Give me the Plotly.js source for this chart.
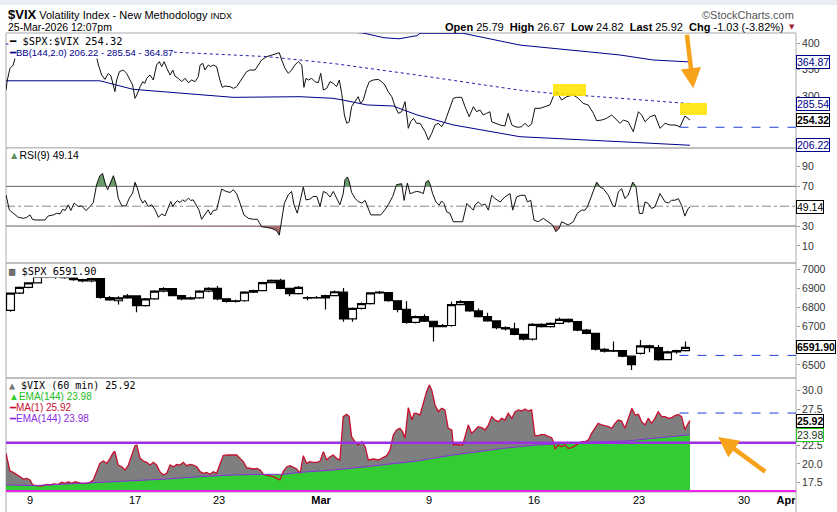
<!DOCTYPE html>
<html><head><meta charset="utf-8">
<script src="https://cdn.plot.ly/plotly-3.0.1.min.js"></script>
<style>html,body{margin:0;padding:0;background:#fff;}#chart{width:837px;height:512px;}</style>
</head><body><div id="chart"></div>
<script>
// ---------- DATA (x = 60-min bar number, 7 bars per trading day) ----------
const xTickVals = [8,43,71,105,141,176,211,246,260];
const xTickText = ['9','17','23','<b>Mar</b>','9','16','23','30','<b>Apr</b>'];

// $SPX:$VIX ratio
const ratioX = [0,0.44,1.33,2.4,3,6,10,14,18,22,26,
30.2,30.8,31.9,33,34.1,35,36.3,36.9,37.8,39.1,40.2,41.3,42.2,43,43.6,44.7,45.6,46.3,46.9,48,
49.1,50.2,51.1,51.9,52.7,53.6,54.7,55.6,56.3,57.4,58.6,59.7,60.8,61.9,63,64.1,64.7,65.6,66.3,67.4,
68.2,69.1,70.2,71.3,72.1,73,74.7,75.8,76.9,78,79.1,80.2,81.3,83,84.1,85.2,86.9,88.6,90.2,91.1,
91.9,93,94.1,95.2,96.3,97.4,98.6,99.3,100,100.8,101.9,103,104.1,104.9,105.8,106.9,108,109.1,110.2,111.1,
111.9,112.8,113.6,114.4,115.2,116.3,117.4,118.2,119.1,120.2,121.1,122.4,124.1,125.2,126.3,127.4,128.6,129.7,130.8,131.9,
133,133.8,134.1,134.9,135.8,136.9,
138,139.7,140.8,141.9,143,144.1,145.2,146.3,147.4,149.1,150.2,151.9,153,154.4,155.8,156.9,158,159.1,160.2,161.3,
161.9,163,164.7,166.3,167.4,168.6,169.7,170.8,171.9,173,174.1,175.2,176.3,178,179.7,181.3,182.4,183.6,185.2,186.9,
189.1,190.8,192.4,194.1,195.8,196.9,198.6,200.2,201.9,203,204.7,205.8,207.4,209.1,210.8,211.9,213,214.7,216.3,218,
219.7,221.3,223,224.7,226.3,228];
const ratioV = [311.4,330.5,352.7,359,371.8,388,394,386,396,390,384,
374.9,359,340,331.7,343.2,338,308.3,330.5,346.4,349.5,343.2,330.5,321,295.6,301.9,317.8,327.3,324.1,333.7,340,
330.5,359,365.4,355.9,365.4,352.7,340,349.5,338,333.7,327.3,333.7,325.4,330.5,327.3,336.8,359,362.2,349.5,359,
355.9,359,355.9,330.5,316.5,319,317.8,314.6,317.8,327.3,336.8,346.4,349.5,349.5,359,368.6,374.9,378.1,381.2,382.5,
368.6,352.7,343.2,349.5,359,365.4,359,316.5,333.7,330.5,333.7,327.3,325.4,343.2,311.4,314.6,327.3,324.1,317.8,330.5,
305,263.8,248,251,279.7,289.2,298.7,286,292.4,314.6,327.3,330.5,331.7,327.3,321,308.3,298.7,279.7,267,270.1,
289.2,254.3,238.5,251,257.5,248,
248,232,216.2,228.9,244.8,248,241.6,251,267,295.6,297.5,297.5,279.7,260.6,279.7,270.1,273.3,263.8,267,270.1,
251,248,244.8,242.9,267,244.8,241.6,240.4,241.6,248,241.6,246.7,276.6,276.6,279.7,282.9,298.7,308.3,292.4,298.7,
301.9,295.6,286,282.9,267,253,254.3,257.5,263.8,257.5,248,254.3,251,232,270.1,263.8,251,260.6,263.8,238.5,
248,244.8,244.8,241.6,261.9,254.32];

// Bollinger Bands (144,2.0)
const bbUpperX = [0,50,100,115,119,126,131,137,138,152.3,171.3,193.7,204.7,215.7,228];
const bbUpperV = [445,438,428,422,420,411,409,415,419.5,419.5,397,384.4,378.1,368.6,364.87];
const bbMidX = [0,30,56.3,87,109,137,171.3,182.3,204.7,228];
const bbMidV = [399,391,383,375,362,340,311,305,295.6,285.54];
const bbLowerX = [0,31.3,42.3,53.7,75.7,98,109,112.3,120.3,129,137,149,171.3,204.7,228];
const bbLowerV = [329,329,312.8,308,297.5,298.7,295.6,292.4,283,281,264,245,222.5,213,206.22];
const ratioPrevClose = 240.5;

// RSI(9)
const rsiX = [0,1.1,2.4,4.1,5.8,6.9,8,8.8,9.7,11.3,13,14.1,15.8,16.9,18,18.9,19.7,20.8,21.6,22.7,
24.1,25.2,26.7,28,29.1,30.2,31.3,32.2,33,33.9,34.9,35.8,36.7,37.4,38.6,40,41.1,42.2,43,43.8,
44.7,45.6,46.3,47.4,48.6,49.7,50.8,51.9,53,54.1,54.9,55.6,56.3,57.1,58,58.9,59.7,60.8,61.6,62.4,
63.6,64.3,65.2,66.3,67.4,68.2,69.1,70.2,71.9,73.3,74.7,75.8,76.9,78,79.3,80.8,82.4,83.8,85.2,86.9,
88.6,90.2,91.1,91.9,92.8,94.1,95.2,96,97.1,98,99.1,100,101.3,102.4,103.6,104.7,105.8,106.9,108,109.1,
110.4,111.3,112.4,113,113.8,114.4,115.2,116.3,117.4,118.6,119.7,120.8,121.6,123,124.9,126.3,127.4,128.9,130.2,131.9,
132.7,133.8,134.7,135.8,136.9,
138,139.1,140,140.8,141.3,142.2,143.3,144.4,145.2,146,146.9,148,149.1,150.8,152.2,153.6,154.7,155.8,156.3,157.4,
158.6,159.7,160.8,161.9,163,164.7,166.3,168,168.9,170.2,171.6,173,173.8,174.9,176,177.4,179.1,180.8,182.2,183.3,
184.4,185.2,186.3,187.4,189.1,190.4,191.9,193,193.8,194.9,196,196.9,198,199.1,200.8,202.2,203,204.1,205.2,206.3,
207.4,208.9,210,211.1,212.2,213,214.1,215.2,216.3,218,219.7,220.8,221.9,223,224.1,225.2,226.3,227.4,228];
const rsiV = [61.5,46.3,42.9,38.8,37.8,38.8,41.2,36.8,36.1,36.1,36.1,40.2,41.2,42.9,42.2,46.9,45.6,51.4,45.6,53.1,
49.7,50.3,45.6,49.7,53.7,71.7,80.8,82.9,73.4,66.6,75.1,80.8,71.7,58.1,50.3,50.3,58.1,63.2,74.1,68.3,
58.1,53.1,55.8,49.7,51.4,46.3,38.8,42.2,40.2,49.7,54.7,49.7,53.1,55.4,53.7,56.4,54.7,58.1,55.8,56.4,
49.7,46.3,36.8,41.2,46.3,41.2,45.6,46.3,67.3,64.9,63.9,66.6,62.5,53.1,41.2,37.8,36.8,36.8,29.3,28.6,
27.6,25.3,20.8,36.1,53.1,61.5,64.9,51.4,42.9,54.7,69.3,56.4,57.1,59.8,59.8,49.7,64.9,63.2,59.2,64.9,
57.1,51.4,62.5,76.8,79.5,75.1,63.9,58.1,54.7,53.1,55.8,48,41.2,41.2,41.2,46.3,51.4,59.8,71.7,72.7,
55.8,73.4,62.5,63.9,64.9,
64.3,62.7,74.3,76,72.7,62.7,54.3,51,55.3,52.7,44.3,42.7,34.3,34.3,34.3,52.7,49.3,46,51,54.3,
51,52,46,61,57.7,54.3,59.3,62.7,46,59.3,61,61,54.3,56,36,34.3,37.7,34.3,31,24.3,
27.7,34.3,32.7,31,34.3,42.7,46,46,49.3,57.7,67.7,74.3,69.3,67.7,61,51,49.3,64.3,67.7,57.7,
61,74.3,69.3,42.7,42.7,54.3,52.7,47.7,49.3,62.7,54.3,53.3,56,56,57.7,51,40,47.7,49.14];

// $SPX candles (each candle = 3 hourly bars)
const spxBar = [1.5,4.5,7.5,10.5,13.5,16.5,19.5,22.5,25.5,28.5,31.5,34.5,37.5,40.5,43.5,46.5,49.5,52.5,55.5,58.5,
61.5,64.5,67.5,70.5,73.5,76.5,79.5,82.5,85.5,88.5,91.5,94.5,97.5,100.5,103.5,106.5,109.5,112.5,115.5,118.5,
121.5,124.5,127.5,130.5,133.5,136.5,139.5,142.5,145.5,148.5,151.5,154.5,157.5,160.5,163.5,166.5,169.5,172.5,175.5,178.5,
181.5,184.5,187.5,190.5,193.5,196.5,199.5,202.5,205.5,208.5,211.5,214.5,217.5,220.5,223.5,226.5];
const spxOpen = [6785,6875,6905,6928,6962,6958,6962,6955,6945,6938,
6950,6852,6835,6850,6860,6810,6845,6885,6898,6862,
6845,6850,6885,6900,6845,6832,6835,6880,6888,6930,
6942,6900,6872,6848,6852,6850,6862,6880,6740,6795,
6820,6876,6878,6835,6790,6722,6752,6728,6700,6706,
6815,6830,6782,6752,6730,6695,6688,6660,6635,6712,
6700,6717,6738,6726,6682,6665,6582,6572,6575,6546,
6561,6600,6590,6528,6568,6575];
const spxHigh = [6878,6910,6932,6966,6968,6966,6966,6960,6950,6955,
6952,6860,6858,6870,6862,6850,6890,6905,6900,6865,
6856,6890,6906,6912,6848,6840,6884,6892,6934,6946,
6950,6902,6912,6858,6860,6866,6888,6902,6800,6826,
6880,6886,6880,6835,6832,6758,6765,6730,6714,6830,
6838,6832,6795,6772,6732,6702,6720,6662,6718,6718,
6722,6748,6742,6728,6688,6668,6588,6622,6578,6548,
6630,6605,6604,6574,6580,6622];
const spxLow = [6778,6870,6900,6925,6952,6950,6950,6940,6932,6932,
6845,6835,6815,6845,6775,6805,6840,6880,6858,6838,
6840,6845,6880,6838,6826,6826,6830,6876,6885,6926,
6895,6858,6868,6838,6845,6789,6858,6725,6725,6790,
6815,6870,6830,6775,6715,6716,6724,6623,6698,6700,
6810,6778,6748,6725,6686,6680,6655,6628,6628,6695,
6696,6712,6720,6676,6660,6575,6565,6568,6540,6474,
6555,6566,6522,6524,6558,6570];
const spxClose = [6875,6905,6928,6962,6958,6962,6955,6945,6938,6950,
6852,6840,6850,6860,6810,6845,6885,6898,6862,6845,
6850,6885,6900,6845,6832,6835,6880,6888,6930,6942,
6900,6872,6905,6852,6850,6862,6882,6740,6795,6820,
6876,6880,6835,6790,6722,6752,6728,6700,6706,6815,
6830,6782,6752,6730,6695,6688,6660,6635,6712,6700,
6717,6738,6726,6682,6665,6582,6572,6575,6546,6502,
6600,6590,6528,6568,6575,6591.9];
const spxPrevClose = 6550;

// $VIX (60 min)
const vixX = [0,0.8,1.3,2.4,3.6,4.7,5.8,6.9,8,8.9,10.2,11.9,13.6,14.7,15.8,17.4,18.6,19.7,20.8,21.9,
23,24.1,25.2,26.9,28,29.1,30.2,31.3,32.4,33.6,34.7,35.8,36.3,36.9,37.4,38.6,39.7,40.8,41.9,43,
43.6,44.1,44.7,45.8,46.9,48,49.1,50.2,51.3,52.4,53.6,54.7,55.8,56.9,58,59.1,60.2,61.3,62.4,63.6,
64.7,65.8,66.9,68,69.1,70.2,71.3,72.4,73.6,74.7,75.8,76.9,78,79.1,80.2,81.3,82.4,83.6,84.7,85.8,
86.9,88,89.1,90.2,91.3,92.4,93.6,94.7,95.8,96.9,98,98.6,99.1,100.2,101.3,102.4,103.6,104.7,105.8,106.9,
108,109.1,110.2,111.3,112.4,113.6,114.4,115.2,116.3,117.4,118.6,119.7,120.8,122.4,124.1,125.2,126.9,128,129.1,130.2,
131.3,132.2,133,134.1,135.3,136,136.9,
138,139.1,140.2,141.1,141.9,143,144.1,145.2,146.3,147.4,148.6,149.1,150.2,151.3,152.2,153,154.1,155.2,156.3,157.4,
158.6,159.7,160.8,161.9,163,164.1,165.2,166.3,167.4,168.6,169.7,170.8,171.9,173,174.1,175.2,176.3,177.4,178.6,179.7,
180.8,181.9,182.4,183,184.1,185.2,186.3,187.4,188.6,189.7,190.8,191.9,193,194.1,195.2,196.3,197.4,198.6,199.7,200.8,
201.9,203,204.1,205.2,206.3,207.4,208.6,209.7,210.8,211.9,213,214.1,215.2,216.3,217.4,218.6,219.7,220.8,221.9,223,
224.1,225.2,226.3,227.4,228];
const vixV = [21.46,20.09,19.05,18.86,18.59,18.27,17.95,18.04,17.82,17.14,17.05,17.0,17.23,17.14,17.27,17.23,17.5,17.36,17.59,17.36,
17.59,17.5,17.36,17.36,17.5,17.82,18.95,20.09,20.41,20.09,20.77,21.59,21.68,20.77,19.86,19.63,19.18,19.86,21.23,22.5,
22.59,21.91,20.77,20.41,20.23,19.86,20.23,19.86,18.95,18.5,18.73,19.86,19.63,19.95,19.86,20.23,19.77,19.95,19.86,19.63,
18.95,18.73,18.86,18.59,18.95,18.73,20.09,21.14,21.23,21.23,21.14,21.23,20.77,20.32,19.5,19.41,19.32,19.41,19.18,18.59,
18.5,18.41,18.27,18.04,17.82,18.95,19.63,19.77,19.5,19.32,18.73,19.86,21.14,20.09,20.32,20.23,20.23,20.41,21.68,20.55,
21.0,21.23,20.77,20.55,26.46,26.77,26.46,23.73,23.05,22.59,23.05,22.36,20.55,20.68,20.55,20.77,21.14,21.91,23.96,24.64,
24.87,24.41,23.5,27.68,26.0,26.91,26.91,
26.68,28.28,29.87,30.78,30.1,28.05,27.14,27.59,27.37,24.87,24.64,22.59,22.68,22.59,22.59,23.73,25.32,24.18,24.64,25.09,
24.96,24.64,25.32,26.46,26.0,25.77,26.23,26.0,26.91,26.23,27.14,27.37,27.23,27.5,27.23,27.37,23.87,23.87,24.05,23.96,
23.73,23.59,23.05,22.05,22.59,22.36,22.59,22.14,22.23,22.5,22.82,23.05,23.05,23.27,24.18,24.87,25.55,25.32,25.23,25.09,
24.87,25.55,26.0,25.86,24.87,26.23,27.59,26.68,26.77,25.77,25.32,26.23,25.55,26.23,27.14,26.46,26.46,26.23,26.32,26.59,
26.77,26.46,24.7,25.55,25.92];
const emaX = [0,9.1,20.2,31.3,42.4,53.6,64.7,75.8,85.8,92.4,98,109.1,120.2,131.3,136.9,149.1,165.8,176.9,193.6,206.9,215.8,228];
const emaV = [17.14,17.05,17.27,17.5,17.68,17.95,18.27,18.5,18.59,18.59,18.86,19.18,19.63,20.09,20.41,21.23,22.14,22.59,22.96,23.14,23.5,23.98];
const vixPrevClose = 26.95;
const vixLevel = 22.9;

// ---------- LAYOUT HELPERS ----------
const PL = 6, PR = 796, PT = 33, PB = 492;
const xMax = (PR - PL) / 3;
function pxX(x){ return (x - PL) / (PR - PL); }
function pxY(y){ return (PB - y) / (PB - PT); }
const d1 = [pxY(148), 1], d2 = [pxY(263), pxY(148)], d3 = [pxY(378), pxY(263)], d4 = [0, pxY(378)];

function bandFill(xs, ys, thr, above){
  const fx = [], fy = [];
  for (let i = 0; i < xs.length; i++){
    if (i > 0){
      const y0 = ys[i-1], y1 = ys[i];
      if ((y0 - thr) * (y1 - thr) < 0){
        const t = (thr - y0) / (y1 - y0);
        fx.push(xs[i-1] + t * (xs[i] - xs[i-1])); fy.push(thr);
      }
    }
    fx.push(xs[i]); fy.push(above ? Math.max(ys[i], thr) : Math.min(ys[i], thr));
  }
  fx.push(xs[xs.length-1], xs[0]); fy.push(thr, thr);
  return {x: fx, y: fy};
}
const gFill = bandFill(rsiX, rsiV, 70, true);
const rFill = bandFill(rsiX, rsiV, 30, false);

const traces = [
  {x: bbUpperX, y: bbUpperV, yaxis: 'y', mode: 'lines', line: {color: '#00008b', width: 1}},
  {x: bbLowerX, y: bbLowerV, yaxis: 'y', mode: 'lines', line: {color: '#00008b', width: 1}},
  {x: bbMidX, y: bbMidV, yaxis: 'y', mode: 'lines', line: {color: '#2020b0', width: 1, dash: 'dot'}},
  {x: ratioX, y: ratioV, yaxis: 'y', mode: 'lines', line: {color: '#111', width: 1}},
  {x: gFill.x, y: gFill.y, yaxis: 'y2', mode: 'lines', fill: 'toself', fillcolor: '#6b9b6b', line: {width: 0}},
  {x: rFill.x, y: rFill.y, yaxis: 'y2', mode: 'lines', fill: 'toself', fillcolor: '#a86c6c', line: {width: 0}},
  {x: rsiX, y: rsiV, yaxis: 'y2', mode: 'lines', line: {color: '#111', width: 1}},
  {type: 'candlestick', x: spxBar, open: spxOpen, high: spxHigh, low: spxLow, close: spxClose, yaxis: 'y3',
   whiskerwidth: 0,
   increasing: {line: {color: '#000', width: 1.2}, fillcolor: '#ffffff'},
   decreasing: {line: {color: '#000', width: 1.2}, fillcolor: '#000000'}},
  {x: vixX, y: vixV, yaxis: 'y4', mode: 'lines', fill: 'tozeroy', fillcolor: '#7f7f7f', line: {width: 0}},
  {x: emaX, y: emaV, yaxis: 'y4', mode: 'lines', fill: 'tozeroy', fillcolor: '#33cc33', line: {width: 0}},
  {x: vixX, y: vixV, yaxis: 'y4', mode: 'lines', line: {color: '#c8102e', width: 1.3}},
  {x: emaX, y: emaV, yaxis: 'y4', mode: 'lines', line: {color: '#8a2be2', width: 1}}
];

const yCommon = {side: 'right', anchor: 'x', showgrid: false, zeroline: false, showline: false,
  ticks: 'outside', ticklen: 3, tickcolor: '#999', tickfont: {size: 10.5, color: '#333'}, fixedrange: true};

const border = '#aaaaaa';
const shapes = [
  {type: 'rect', xref: 'paper', yref: 'paper', x0: -PL/790, x1: (837-PL)/790, y0: pxY(5), y1: pxY(0), fillcolor: '#e9edf1', line: {width: 0}, layer: 'below'},
  {type: 'rect', xref: 'paper', yref: 'paper', x0: 0, x1: 1, y0: d1[0], y1: d1[1], line: {color: border, width: 1}, layer: 'below'},
  {type: 'rect', xref: 'paper', yref: 'paper', x0: 0, x1: 1, y0: d2[0], y1: d2[1], line: {color: border, width: 1}, layer: 'below'},
  {type: 'rect', xref: 'paper', yref: 'paper', x0: 0, x1: 1, y0: d3[0], y1: d3[1], line: {color: border, width: 1}, layer: 'below'},
  {type: 'rect', xref: 'paper', yref: 'paper', x0: 0, x1: 1, y0: d4[0], y1: d4[1], line: {color: border, width: 1}, layer: 'below'},
  {type: 'line', xref: 'paper', yref: 'paper', x0: 0, x1: 0, y0: 0, y1: pxY(512), line: {color: border, width: 1}},
  {type: 'line', xref: 'paper', yref: 'paper', x0: 1, x1: 1, y0: 0, y1: pxY(512), line: {color: border, width: 1}},
  {type: 'line', xref: 'paper', yref: 'y2', x0: 0, x1: 1, y0: 70, y1: 70, line: {color: '#666', width: 1}, layer: 'below'},
  {type: 'line', xref: 'paper', yref: 'y2', x0: 0, x1: 1, y0: 30, y1: 30, line: {color: '#666', width: 1}, layer: 'below'},
  {type: 'line', xref: 'paper', yref: 'y2', x0: 0, x1: 1, y0: 50, y1: 50, line: {color: '#888', width: 1, dash: 'dashdot'}, layer: 'below'},
  {type: 'line', xref: 'x', yref: 'y', x0: 224.5, x1: xMax, y0: ratioPrevClose, y1: ratioPrevClose, line: {color: '#1f3fdb', width: 1, dash: 'dash'}},
  {type: 'line', xref: 'x', yref: 'y3', x0: 224.5, x1: xMax, y0: spxPrevClose, y1: spxPrevClose, line: {color: '#1f3fdb', width: 1, dash: 'dash'}},
  {type: 'line', xref: 'x', yref: 'y4', x0: 224.5, x1: xMax, y0: vixPrevClose, y1: vixPrevClose, line: {color: '#1f3fdb', width: 1, dash: 'dash'}},
  {type: 'line', xref: 'paper', yref: 'y4', x0: 0, x1: 1, y0: vixLevel, y1: vixLevel, line: {color: '#9b30e0', width: 2.5}},
  {type: 'line', xref: 'paper', yref: 'paper', x0: 0, x1: 1, y0: 0.002, y1: 0.002, line: {color: '#ee22ee', width: 2}},
  {type: 'rect', xref: 'paper', yref: 'paper', x0: pxX(553), x1: pxX(586), y0: pxY(96), y1: pxY(84), fillcolor: '#ffe500', opacity: 0.88, line: {width: 0}},
  {type: 'rect', xref: 'paper', yref: 'paper', x0: pxX(680), x1: pxX(707), y0: pxY(115), y1: pxY(103), fillcolor: '#ffe500', opacity: 0.88, line: {width: 0}}
];

const F = 'Liberation Sans, Arial, sans-serif';
const M = 'DejaVu Sans Mono, monospace';
function lab(text, y, opts){
  return Object.assign({xref: 'paper', yref: 'paper', x: pxX(8), y: pxY(y), xanchor: 'left', yanchor: 'middle',
    showarrow: false, text: text, bgcolor: '#ffffff', borderpad: 0, font: {family: F, size: 10, color: '#000'}}, opts || {});
}
function valBox(text, yref, y, color, bold, textColor){
  return {xref: 'paper', yref: yref, x: 1, y: y, xanchor: 'left', yanchor: 'middle', xshift: 0, showarrow: false,
    text: bold ? '<b>' + text + '</b>' : text, bgcolor: '#ffffff', bordercolor: color, borderwidth: 1, borderpad: 0,
    font: {family: F, size: 10.5, color: textColor || color}};
}
const nb = '\u00a0';
const annotations = [
  {xref: 'paper', yref: 'paper', x: 0, y: pxY(15), xanchor: 'left', yanchor: 'middle', showarrow: false,
   text: "<span style='font-size:13px'><b>$VIX</b></span> Volatility Index - New Methodology <span style='font-size:9px'>INDX</span>",
   font: {family: F, size: 11, color: '#000'}},
  {xref: 'paper', yref: 'paper', x: 0, y: pxY(26.7), xanchor: 'left', yanchor: 'middle', showarrow: false,
   text: '25-Mar-2026 12:07pm', font: {family: F, size: 10.5, color: '#000'}},
  {xref: 'paper', yref: 'paper', x: 1, y: pxY(15), xanchor: 'right', yanchor: 'middle', showarrow: false,
   text: '©StockCharts.com', font: {family: F, size: 11, color: '#555'}},
  {xref: 'paper', yref: 'paper', x: pxX(786), y: pxY(26.7), xanchor: 'right', yanchor: 'middle', showarrow: false,
   text: '<b>Open</b> 25.79' + nb + nb + '<b>High</b> 26.67' + nb + nb + '<b>Low</b> 24.82' + nb + nb + '<b>Last</b> 25.92' + nb + nb + '<b>Chg</b> -1.03 (-3.82%)',
   font: {family: F, size: 11, color: '#000'}},
  {xref: 'paper', yref: 'paper', x: pxX(792), y: pxY(27.5), xanchor: 'center', yanchor: 'middle', showarrow: false,
   text: '▼', font: {family: 'DejaVu Sans', size: 7, color: '#a01c3c'}},

  lab('━ $SPX:$VIX 254.32', 40.7, {font: {family: M, size: 10.4, color: '#000'}}),
  lab("━<span style='font-size:9.5px'>BB(144,2.0) 206.22 - 285.54 - 364.87</span>", 52.3, {font: {family: F, size: 9.5, color: '#00008b'}}),
  lab("<span style='color:#5f8f5f'>▲</span>RSI(9) 49.14", 155, {font: {family: F, size: 10.5, color: '#000'}}),
  lab('▥ $SPX 6591.90', 270.7, {font: {family: M, size: 10.4, color: '#000'}}),
  lab("<span style='color:#777'>▲</span> $VIX (60 min) 25.92", 385.7, {font: {family: M, size: 10, color: '#000'}}),
  lab("<span style='color:#33cc33'>▲</span>EMA(144) 23.98", 396.7, {font: {family: F, size: 10, color: '#22bb22'}}),
  lab('━MA(1) 25.92', 407.7, {font: {family: F, size: 10, color: '#c8102e'}}),
  lab('━EMA(144) 23.98', 418.3, {font: {family: F, size: 10, color: '#8a2be2'}}),

  valBox('364.87', 'y', 364.87, '#00008b', false),
  valBox('285.54', 'y', 285.54, '#00008b', false),
  valBox('254.32', 'y', 254.32, '#000', true),
  valBox('206.22', 'y', 206.22, '#00008b', false),
  valBox('49.14', 'y2', 49.14, '#000', false),
  valBox('6591.90', 'y3', 6591.9, '#000', true),
  valBox('25.92', 'y4', 25.92, '#000', true),
  valBox('23.98', 'y4', 23.98, '#22cc22', false, '#1a3a1a'),

  {xref: 'paper', yref: 'paper', x: pxX(799), y: pxY(508), xanchor: 'left', yanchor: 'top', showarrow: false,
   text: '0.8', font: {family: F, size: 10.5, color: '#333'}},

  {xref: 'paper', yref: 'paper', x: pxX(693.3), y: pxY(88.3), ax: -6.6, ay: -55, showarrow: true, text: '',
   arrowhead: 2, arrowsize: 0.9, arrowwidth: 4.5, arrowcolor: '#f7a21b'},
  {xref: 'paper', yref: 'paper', x: pxX(718), y: pxY(437), ax: 48.7, ay: 35.7, showarrow: true, text: '',
   arrowhead: 2, arrowsize: 0.9, arrowwidth: 4.5, arrowcolor: '#f7a21b'}
];

const layout = {
  width: 837, height: 512, margin: {l: PL, r: 837 - PR, t: PT, b: 512 - PB, pad: 0},
  paper_bgcolor: '#fff', plot_bgcolor: '#fff', showlegend: false, hovermode: false,
  font: {family: F, size: 10.5, color: '#222'}, boxgap: 0.12, boxgroupgap: 0,
  xaxis: {range: [0, xMax], anchor: 'y4', tickvals: xTickVals, ticktext: xTickText, ticks: '',
    showgrid: false, zeroline: false, showline: false, rangeslider: {visible: false},
    tickfont: {family: F, size: 11, color: '#000'}, fixedrange: true},
  yaxis: Object.assign({}, yCommon, {domain: d1, range: [201, 420], tickvals: [300, 350, 400]}),
  yaxis2: Object.assign({}, yCommon, {domain: d2, range: [-7.3, 108.7], tickvals: [10, 30, 70, 90]}),
  yaxis3: Object.assign({}, yCommon, {domain: d3, range: [6432, 7032], tickvals: [6500, 6700, 6800, 6900, 7000]}),
  yaxis4: Object.assign({}, yCommon, {domain: d4, range: [16.18, 31.73], tickvals: [17.5, 20, 22.5, 27.5, 30], tickformat: '.1f'}),
  shapes: shapes, annotations: annotations
};

Plotly.newPlot('chart', traces, layout, {staticPlot: true, displayModeBar: false});
</script>
</body></html>
